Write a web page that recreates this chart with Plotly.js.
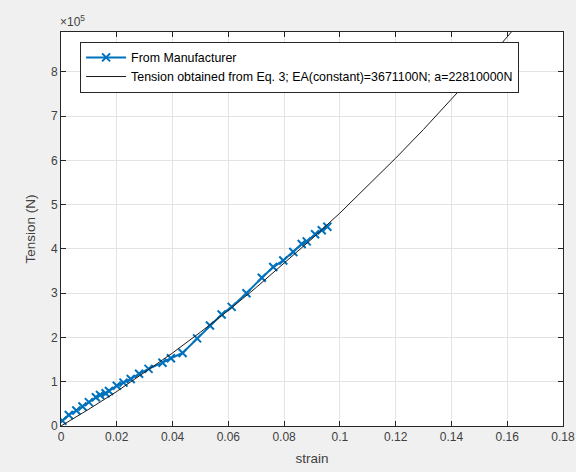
<!DOCTYPE html>
<html>
<head>
<meta charset="utf-8">
<script src="https://cdn.plot.ly/plotly-3.0.1.min.js"></script>
<style>
  html, body { margin: 0; padding: 0; background: #f0f0f0; }
  #chart { width: 576px; height: 472px; }
</style>
</head>
<body>
<div id="chart"></div>
<script>
// Manufacturer data (strain, tension in N)
const mfrStrain = [0.0005, 0.0028, 0.0055, 0.0077, 0.0100, 0.0125, 0.0140, 0.0160, 0.0172, 0.0200,
                   0.0224, 0.0250, 0.0280, 0.0314, 0.0364, 0.0394, 0.0436, 0.0488, 0.0534, 0.0576,
                   0.0612, 0.0665, 0.0720, 0.0761, 0.0797, 0.0833, 0.0863, 0.0881, 0.0911, 0.0935, 0.0955];
const mfrTension = [12000, 25000, 35000, 44000, 54000, 65000, 70000, 74000, 79000, 91000,
                    98000, 106000, 118000, 129000, 143000, 153000, 165000, 198000, 227000, 252000,
                    269000, 300000, 335000, 359000, 374000, 393000, 411000, 417000, 433000, 442000, 450000];

// Eq. 3 curve
const eqStrain = [0, 0.01, 0.02, 0.03, 0.04, 0.05, 0.06, 0.07, 0.08, 0.09, 0.10, 0.11, 0.12, 0.13, 0.14, 0.15, 0.16, 0.17];
const eqTension = [0, 38000, 78000, 121000, 165000, 212000, 261000, 313000, 367000, 423000, 481000,
                   542000, 605000, 670000, 738000, 807000, 879000, 954000];

const xTicks = [0, 0.02, 0.04, 0.06, 0.08, 0.1, 0.12, 0.14, 0.16, 0.18];
const xTickText = ['0', '0.02', '0.04', '0.06', '0.08', '0.1', '0.12', '0.14', '0.16', '0.18'];
const yTicks = [0, 100000, 200000, 300000, 400000, 500000, 600000, 700000, 800000];
const yTickText = ['0', '1', '2', '3', '4', '5', '6', '7', '8'];

const names = ['From Manufacturer', 'Tension obtained from Eq. 3; EA(constant)=3671100N; a=22810000N'];

const axisColor = '#262626';
const tickColor = '#404040';
const fontFam = '"Liberation Sans", Arial, Helvetica, sans-serif';

const traces = [
  {
    x: mfrStrain, y: mfrTension, name: names[0],
    type: 'scatter', mode: 'lines+markers',
    line: { color: '#0072BD', width: 2 },
    marker: { symbol: 'x-thin', size: 8, color: '#0072BD', line: { color: '#0072BD', width: 2 } }
  },
  {
    x: eqStrain, y: eqTension, name: names[1],
    type: 'scatter', mode: 'lines',
    line: { color: '#1a1a1a', width: 1 }
  }
];

const layout = {
  width: 576, height: 472,
  paper_bgcolor: '#f0f0f0',
  plot_bgcolor: '#ffffff',
  margin: { l: 61, r: 13, t: 32, b: 46, pad: 0 },
  font: { family: fontFam, size: 12, color: tickColor },
  showlegend: true,
  legend: {
    x: 0.038, y: 0.975, xanchor: 'left', yanchor: 'top',
    bgcolor: '#ffffff', bordercolor: axisColor, borderwidth: 1,
    font: { family: fontFam, size: 12.4, color: '#000000' },
    tracegroupgap: 0, itemwidth: 40
  },
  xaxis: {
    range: [0, 0.18],
    tickvals: xTicks, ticktext: xTickText,
    ticks: 'inside', ticklen: 5, tickcolor: axisColor, tickwidth: 1,
    showline: true, linecolor: axisColor, linewidth: 1, mirror: 'allticks',
    showgrid: true, gridcolor: '#e3e3e3', gridwidth: 1,
    zeroline: false, automargin: false,
    tickfont: { family: fontFam, size: 12, color: tickColor },
    title: { text: 'strain', font: { family: fontFam, size: 13.5, color: tickColor }, standoff: 10 }
  },
  yaxis: {
    range: [0, 890000],
    tickvals: yTicks, ticktext: yTickText,
    ticks: 'inside', ticklen: 5, tickcolor: axisColor, tickwidth: 1,
    showline: true, linecolor: axisColor, linewidth: 1, mirror: 'allticks',
    showgrid: true, gridcolor: '#e3e3e3', gridwidth: 1,
    zeroline: false, automargin: false,
    tickfont: { family: fontFam, size: 12, color: tickColor },
    title: { text: 'Tension (N)', font: { family: fontFam, size: 13.5, color: tickColor }, standoff: 12 }
  },
  annotations: [
    {
      xref: 'paper', yref: 'paper', x: 0, y: 1, xanchor: 'left', yanchor: 'bottom',
      xshift: -3, yshift: 1,
      text: '×10<sup>5</sup>', showarrow: false,
      font: { family: fontFam, size: 12, color: tickColor }
    }
  ]
};

Plotly.newPlot('chart', traces, layout, { displayModeBar: false, staticPlot: true });
</script>
</body>
</html>
